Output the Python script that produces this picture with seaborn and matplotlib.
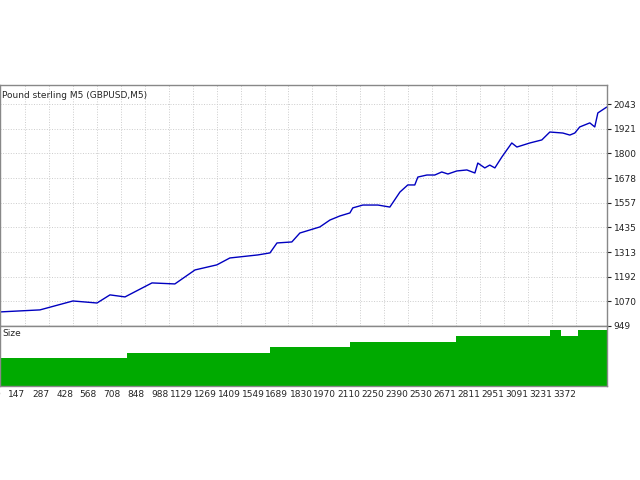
import numpy as np
import pandas as pd
import matplotlib
matplotlib.use("Agg")
import matplotlib.pyplot as plt
import seaborn as sns

# balance curve
trades = [0, 234, 427, 568, 644, 732, 890, 1024, 1142, 1270, 1346, 1510, 1581, 1622,
          1709, 1756, 1873, 1932, 1990, 2049, 2066, 2125, 2213, 2283, 2342, 2388, 2429,
          2447, 2500, 2546, 2587, 2623, 2675, 2734, 2781, 2798, 2839, 2868, 2898, 2939,
          2997, 3027, 3103, 3173, 3220, 3296, 3337, 3366, 3395, 3454, 3483, 3501, 3553]
balance = [1018, 1028, 1072, 1062, 1102, 1092, 1161, 1156, 1225, 1250, 1284, 1299, 1309,
           1358, 1363, 1407, 1437, 1471, 1491, 1506, 1531, 1545, 1545, 1535, 1609, 1644,
           1644, 1683, 1693, 1693, 1708, 1698, 1713, 1718, 1703, 1752, 1728, 1742, 1728,
           1782, 1851, 1831, 1851, 1866, 1905, 1900, 1890, 1900, 1930, 1950, 1930, 1999, 2028]

size_x = [0, 743, 1581, 2049, 2669, 3220, 3284, 3384, 3553]
size_v = [0.28, 0.33, 0.39, 0.44, 0.50, 0.56, 0.50, 0.56, 0.56]

y_ticks = [949, 1070, 1192, 1313, 1435, 1557, 1678, 1800, 1921, 2043]
x_ticks = [0, 147, 287, 428, 568, 708, 848, 988, 1129, 1269, 1409, 1549, 1689, 1830,
           1970, 2110, 2250, 2390, 2530, 2671, 2811, 2951, 3091, 3231, 3372]

sns.set_style("white")
fig = plt.figure(figsize=(6.4, 4.8), dpi=100)
ax = fig.add_axes([0.0, 0.321, 0.948, 0.502])
ax2 = fig.add_axes([0.0, 0.196, 0.948, 0.125])

df = pd.DataFrame({"trade": trades, "balance": balance})
sns.lineplot(data=df, x="trade", y="balance", ax=ax, color="#0000c0", linewidth=1)
ax.set_xlim(0, 3553)
ax.set_ylim(949, 2137)
ax.set_yticks(y_ticks)
ax.set_xticks(x_ticks)
ax.set_xticklabels([])
ax.yaxis.tick_right()
ax.tick_params(axis="y", labelsize=6.5, length=3, pad=2, colors="#222222")
ax.tick_params(axis="x", length=0)
ax.set_xlabel("")
ax.set_ylabel("")
ax.grid(True, linestyle=":", color="#cccccc", linewidth=0.7)
ax.text(0.004, 0.975, "Pound sterling M5 (GBPUSD,M5)", transform=ax.transAxes,
        fontsize=6.5, va="top", ha="left")

ax2.fill_between(size_x, size_v, step="post", color="#00aa00", linewidth=0)
ax2.set_xlim(0, 3553)
ax2.set_ylim(0, 0.6)
ax2.set_yticks([])
ax2.set_xticks(x_ticks)
ax2.set_xticklabels([str(t) for t in x_ticks], fontsize=6.5, ha="right")
ax2.tick_params(axis="x", length=0, pad=3)
ax2.text(0.004, 0.95, "Size", transform=ax2.transAxes, fontsize=6.5, va="top", ha="left")

for a in (ax, ax2):
    for s in a.spines.values():
        s.set_color("#888888")
        s.set_linewidth(1)

fig.savefig("out.png", dpi=100)
